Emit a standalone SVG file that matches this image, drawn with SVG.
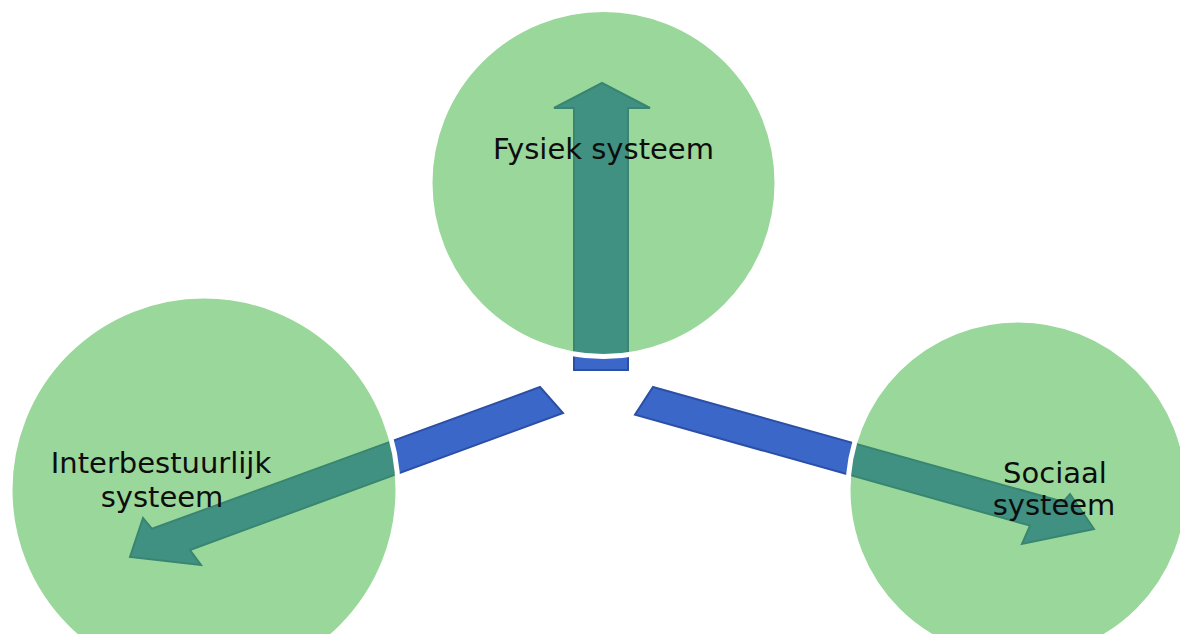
<svg xmlns="http://www.w3.org/2000/svg" width="1180" height="634" viewBox="0 0 1180 634">
  <style>
    .arrow { fill: #3b67c8; stroke: #2b4fa6; stroke-width: 2; stroke-linejoin: miter; }
    .bubble { fill: #45b545; fill-opacity: 0.54; stroke: #ffffff; stroke-width: 5; }
    .label { font-family: "DejaVu Sans", Verdana, sans-serif; font-size: 29px; fill: #0d0d0d; text-anchor: middle; }
  </style>
  <rect width="1180" height="634" fill="#ffffff"/>

  <!-- three diverging arrows, drawn under the translucent circles -->
  <g id="connectors">
    <polygon id="arrow-up" class="arrow" points="574,370 574,108 554,108 602,83 650,108 628,108 628,370"/>
    <polygon id="arrow-left" class="arrow" points="540,387 152,528.8 143,518 130,557 201,565 190,550 563,413"/>
    <polygon id="arrow-right" class="arrow" points="653,387 1063,501.8 1070,494 1094,529 1022,544 1030,525.6 635,414.6"/>
  </g>

  <g id="node-fysiek">
    <circle class="bubble" cx="603.5" cy="183" r="173.5"/>
    <text class="label" x="603.5" y="159">Fysiek systeem</text>
  </g>

  <g id="node-interbestuurlijk">
    <circle class="bubble" cx="204" cy="490" r="194"/>
    <text class="label" x="161" y="473">Interbestuurlijk</text>
    <text class="label" x="162" y="507">systeem</text>
  </g>

  <g id="node-sociaal">
    <circle class="bubble" cx="1018" cy="490" r="170"/>
    <text class="label" x="1055" y="483">Sociaal</text>
    <text class="label" x="1054" y="515">systeem</text>
  </g>
</svg>
